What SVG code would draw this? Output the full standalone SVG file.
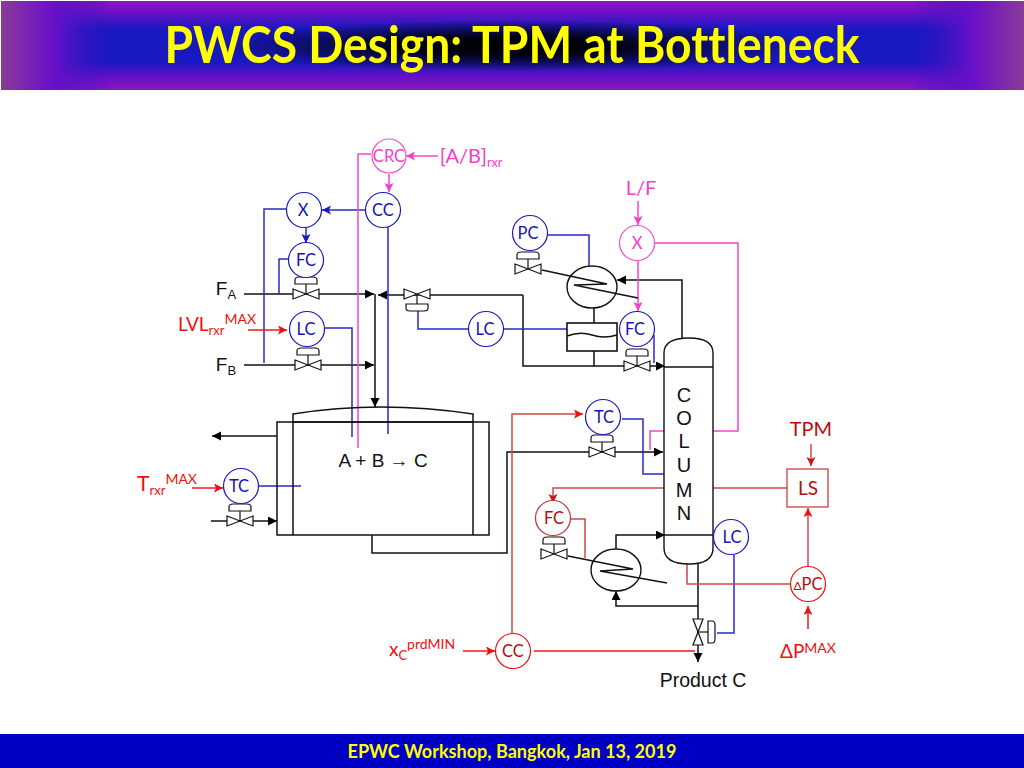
<svg xmlns="http://www.w3.org/2000/svg" width="1024" height="768" viewBox="0 0 1024 768">
<style>
.k{fill:none;stroke:#111;stroke-width:1.5}
.b{fill:none;stroke:#2a2ac4;stroke-width:1.5}
.p{fill:none;stroke:#f048c8;stroke-width:1.5}
.r{fill:none;stroke:#f01818;stroke-width:1.5}
.d{fill:none;stroke:#d04848;stroke-width:1.5}
.ak{marker-end:url(#mk)}.ab{marker-end:url(#mb)}.ap{marker-end:url(#mp)}.ar{marker-end:url(#mr)}.ad{marker-end:url(#md)}
.n{fill:#fff;stroke-width:1.2}
.cb{stroke:#1a1ac0}.cp{stroke:#f050d0}.cr{stroke:#f01010}.cd{stroke:#c83030}
text{font-family:"Lato","Carlito","Open Sans",sans-serif;text-anchor:middle;font-variant-ligatures:none}
.t{font-size:16.5px}
.tb{fill:#1414b4}.tp{fill:#f040c8}.tr{fill:#f01010}.td{fill:#b80c0c}
.l{font-family:"Liberation Sans",Arial,sans-serif;fill:#111}
.sym{fill:#fff;stroke:#111;stroke-width:1.2}
</style>
<defs>
<marker id="mk" markerUnits="userSpaceOnUse" markerWidth="10" markerHeight="10" refX="9" refY="4.5" orient="auto"><path d="M0 0L9 4.5L0 9z" fill="#000"/></marker>
<marker id="mb" markerUnits="userSpaceOnUse" markerWidth="10" markerHeight="10" refX="9" refY="4.5" orient="auto"><path d="M0 0L9 4.5L0 9L2 4.5z" fill="#1a1ac0"/></marker>
<marker id="mp" markerUnits="userSpaceOnUse" markerWidth="10" markerHeight="10" refX="9" refY="4.5" orient="auto"><path d="M0 0L9 4.5L0 9L2 4.5z" fill="#f040c8"/></marker>
<marker id="mr" markerUnits="userSpaceOnUse" markerWidth="10" markerHeight="10" refX="9" refY="4.5" orient="auto"><path d="M0 0L9 4.5L0 9L2 4.5z" fill="#f01010"/></marker>
<marker id="md" markerUnits="userSpaceOnUse" markerWidth="10" markerHeight="10" refX="9" refY="4.5" orient="auto"><path d="M0 0L9 4.5L0 9L2 4.5z" fill="#c81818"/></marker>
<g id="valve"><path class="sym" d="M-13 -5L13 5V-5L-13 5z"/><path class="sym" d="M0 0V-11"/><path class="sym" d="M-11 -10V-14Q-11 -17 -7 -17H7Q11 -17 11 -14V-10z"/></g>
<linearGradient id="gv" x1="0" y1="0" x2="0" y2="1"><stop offset="0" stop-color="#8a18b8"/><stop offset=".12" stop-color="#7010c8"/><stop offset=".32" stop-color="#1818c0" stop-opacity=".9"/><stop offset=".68" stop-color="#1818c0" stop-opacity=".9"/><stop offset=".88" stop-color="#7010c8"/><stop offset="1" stop-color="#8a18b8"/></linearGradient>
<linearGradient id="gh" x1="0" y1="0" x2="1" y2="0"><stop offset="0" stop-color="#8a3a98"/><stop offset=".05" stop-color="#6a10c8"/><stop offset=".11" stop-color="#3014c0" stop-opacity="0"/><stop offset=".89" stop-color="#3014c0" stop-opacity="0"/><stop offset=".95" stop-color="#6a10c8"/><stop offset="1" stop-color="#8a3a98"/></linearGradient>
<radialGradient id="gc" cx=".5" cy=".5" r=".5"><stop offset="0" stop-color="#000"/><stop offset=".35" stop-color="#000" stop-opacity=".9"/><stop offset="1" stop-color="#000" stop-opacity="0"/></radialGradient>
</defs>
<rect width="1024" height="768" fill="#fff"/>
<g id="header">
<rect x="1" y="1" width="1023" height="89" fill="#1818c0"/>
<rect x="1" y="1" width="1023" height="89" fill="url(#gv)"/>
<rect x="1" y="1" width="1023" height="89" fill="url(#gh)"/>
<rect x="210" y="20" width="604" height="52" fill="url(#gc)"/>
<text x="512" y="63" font-size="52" font-weight="700" fill="#ffff00" textLength="695" lengthAdjust="spacingAndGlyphs">PWCS Design: TPM at Bottleneck</text>
</g>
<g id="footer"><rect y="734" width="1024" height="34" fill="#0000c4"/><text x="512" y="758" font-size="18" font-weight="700" fill="#ffff00" textLength="329" lengthAdjust="spacingAndGlyphs">EPWC Workshop, Bangkok, Jan 13, 2019</text></g>

<g id="connectors">
<path class="k ak" d="M244 294H374"/>
<path class="k ak" d="M244 365H374"/>
<path class="k ak" d="M375 294V407"/>
<path class="k ak" d="M523 295H378"/>
<path class="k ak" d="M523 295V366H665"/>
<path class="k" d="M594 308V323M594 351V366"/>
<path class="k ak" d="M682 338V280H617"/>
<path class="k ak" d="M277 436H212"/>
<path class="k ak" d="M211 521H277"/>
<path class="k ak" d="M372 535V553H507V452H663"/>
<path class="k ak" d="M616 549V535H665"/>
<path class="k ak" d="M698 564V662"/>
<path class="k ak" d="M698 606H616V591"/>
<path class="b ab" d="M366 210H322"/>
<path class="b ab" d="M306 227V243"/>
<path class="b" d="M287 209H264V363"/>
<path class="b" d="M288 259H279V294"/>
<path class="b" d="M325 328H352V437"/>
<path class="b" d="M388 227V434"/>
<path class="b" d="M469 329H418V310"/>
<path class="b" d="M503 329H567"/>
<path class="b" d="M548 235H589V266"/>
<path class="b" d="M654 335V363"/>
<path class="b" d="M259 486H301"/>
<path class="b" d="M622 419H643V474H664"/>
<path class="b" d="M734 555V633H717"/>
<path class="p ap" d="M438 156H406"/>
<path class="p ap" d="M389 174V192"/>
<path class="p" d="M371 154H358V448"/>
<path class="p ap" d="M638 201V225"/>
<path class="p ap" d="M638 261V311"/>
<path class="p" d="M655 243H738V431H650V450"/>
<path class="r ar" d="M248 330H287"/>
<path class="r ar" d="M192 488H223"/>
<path class="d ar" d="M512 634V414H583"/>
<path class="r ar" d="M463 651H495"/>
<path class="r" d="M534 651H695"/>
<path class="d ad" d="M811 444V466"/>
<path class="d ad" d="M787 488H553V503"/>
<path class="d" d="M571 519H585V558"/>
<path class="d" d="M791 584H687V564"/>
<path class="d ar" d="M808 566V508"/>
<path class="r ar" d="M808 629V606"/>
</g>

<g id="reactor">
<path class="k" d="M277 422H489V535H277z"/>
<path class="k" d="M293 535V414Q380 400 473 414V535M293 422H473"/>
<text class="l" x="383" y="467" font-size="19">A + B → C</text>
</g>
<g id="column">
<path d="M664 353Q664 338 689 338Q713 338 713 353V548Q713 564 689 564Q664 564 664 548z" fill="#fff" stroke="#111" stroke-width="1.4"/>
<path class="k" d="M664 367H713M664 535H713"/>
<text class="l" x="684" y="402" font-size="20">C</text><text class="l" x="684" y="425" font-size="20">O</text><text class="l" x="684" y="448" font-size="20">L</text><text class="l" x="684" y="472" font-size="20">U</text><text class="l" x="684" y="497" font-size="20">M</text><text class="l" x="684" y="520" font-size="20">N</text>
</g>
<g id="condenser">
<ellipse cx="592" cy="287" rx="25" ry="21" fill="none" stroke="#111" stroke-width="1.4"/>
<path class="k" d="M542 270L607 284L574 285L638 298"/>
</g>
<g id="accumulator">
<rect x="567" y="323" width="50" height="28" fill="#fff" stroke="#111" stroke-width="1.6"/>
<path class="k" d="M567 336Q580 331 592 335T617 335" stroke-width="1.1"/>
</g>
<g id="reboiler">
<ellipse cx="616" cy="570" rx="25" ry="21" fill="none" stroke="#111" stroke-width="1.4"/>
<path class="k" d="M568 556L633 569L600 571L667 583"/>
</g>
<g id="valves">
<use href="#valve" transform="translate(306 294)"/>
<use href="#valve" transform="translate(308 365)"/>
<use href="#valve" transform="translate(417 294) scale(1 -1)"/>
<use href="#valve" transform="translate(528 269)"/>
<use href="#valve" transform="translate(637 366)"/>
<use href="#valve" transform="translate(602 452)"/>
<use href="#valve" transform="translate(240 521)"/>
<use href="#valve" transform="translate(554 554)"/>
<use href="#valve" transform="translate(698 632) rotate(90)"/>
</g>

<g id="crc"><circle class="n cp" cx="389" cy="156" r="17"/><text class="t tp" x="389" y="162">CRC</text></g>
<g id="cc1"><circle class="n cb" cx="383" cy="210" r="17.5"/><text class="t tb" x="383" y="216">CC</text></g>
<g id="x1"><circle class="n cb" cx="304" cy="210" r="17.5"/><text class="t tb" x="303" y="216">X</text></g>
<g id="fc1"><circle class="n cb" cx="306" cy="260" r="17.5"/><text class="t tb" x="306" y="266">FC</text></g>
<g id="lc1"><circle class="n cb" cx="307" cy="329" r="17.5"/><text class="t tb" x="306" y="335">LC</text></g>
<g id="lc2"><circle class="n cb" cx="486" cy="329" r="17.5"/><text class="t tb" x="485" y="335">LC</text></g>
<g id="pc"><circle class="n cb" cx="530" cy="233" r="17.5"/><text class="t tb" x="528" y="239">PC</text></g>
<g id="x2"><circle class="n cp" cx="637" cy="243" r="17.5"/><text class="t tp" x="637" y="249">X</text></g>
<g id="fc2"><circle class="n cb" cx="637" cy="329" r="17.5"/><text class="t tb" x="635" y="335">FC</text></g>
<g id="tc1"><circle class="n cb" cx="603" cy="417" r="17.5"/><text class="t tb" x="604" y="423">TC</text></g>
<g id="tc2"><circle class="n cb" cx="241" cy="486" r="17.5"/><text class="t tb" x="239" y="492">TC</text></g>
<g id="fc3"><circle class="n cd" cx="553" cy="518" r="17.5"/><text class="t td" x="554" y="524">FC</text></g>
<g id="lc3"><circle class="n cb" cx="731" cy="537" r="17.5"/><text class="t tb" x="732" y="543">LC</text></g>
<g id="dpc"><circle class="n cr" cx="808" cy="584" r="17.5"/><text class="t td" x="808" y="590"><tspan font-size="12">Δ</tspan>PC</text></g>
<g id="cc2"><circle class="n cr" cx="513" cy="651" r="17.5"/><text class="t td" x="513" y="657">CC</text></g>
<g id="ls"><rect x="787" y="469" width="41" height="38" fill="#fff" stroke="#c83030" stroke-width="1.2"/><text class="td" x="808" y="495" font-size="19">LS</text></g>

<g id="labels">
<text class="tp" x="471" y="163" font-size="20">[A/B]<tspan font-size="12.5" dy="4">rxr</tspan></text>
<text class="tp" x="641" y="195" font-size="20">L/F</text>
<text class="l" x="226" y="295" font-size="19">F<tspan font-size="13" dy="4">A</tspan></text>
<text class="l" x="226" y="371" font-size="19">F<tspan font-size="13" dy="4">B</tspan></text>
<text class="tr" x="217" y="331" font-size="19">LVL<tspan font-size="13" dy="4">rxr</tspan><tspan font-size="14" dy="-11">MAX</tspan></text>
<text class="tr" x="167" y="491" font-size="21">T<tspan font-size="13" dy="4">rxr</tspan><tspan font-size="14" dy="-11">MAX</tspan></text>
<text class="td" x="811" y="436" font-size="20">TPM</text>
<text class="tr" x="422" y="656" font-size="19">x<tspan font-size="13" dy="4">C</tspan><tspan font-size="14" dy="-11">prdMIN</tspan></text>
<text class="tr" x="808" y="658" font-size="19">ΔP<tspan font-size="14" dy="-5">MAX</tspan></text>
<text class="l" x="703" y="687" font-size="19.5">Product C</text>
</g>
</svg>
